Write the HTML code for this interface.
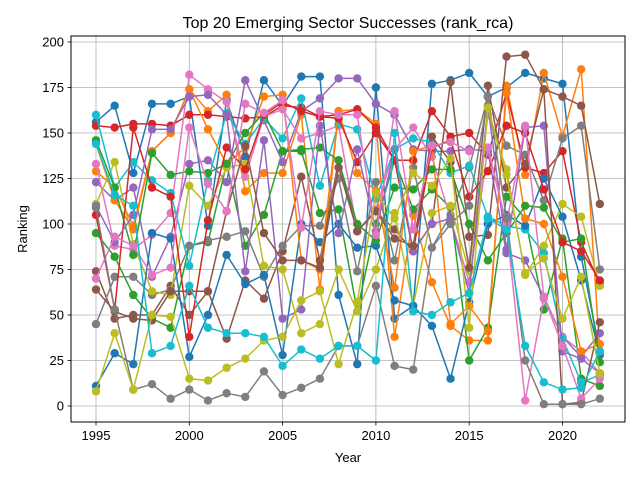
<!DOCTYPE html>
<html><head><meta charset="utf-8"><style>
body{margin:0;background:#fff;}
svg{display:block;font-family:"Liberation Sans","DejaVu Sans",sans-serif;}
</style></head><body>
<svg id="chart" width="640" height="480" xmlns="http://www.w3.org/2000/svg">
<rect width="640" height="480" fill="#fff"/>
<g id="grid"></g>
<g id="series"></g>
<rect x="71" y="36" width="554" height="386" fill="none" stroke="#000" stroke-width="1"/>
<g id="ticks"></g>
<text x="348" y="28" text-anchor="middle" font-size="16">Top 20 Emerging Sector Successes (rank_rca)</text>
<text x="348" y="462" text-anchor="middle" font-size="13">Year</text>
<text x="27" y="229" text-anchor="middle" font-size="13" transform="rotate(-90 27 229)">Ranking</text>
</svg>
<script>
const years=[1995,1996,1997,1998,1999,2000,2001,2002,2003,2004,2005,2006,2007,2008,2009,2010,2011,2012,2013,2014,2015,2016,2017,2018,2019,2020,2021,2022];
const xTicks=[1995,2000,2005,2010,2015,2020];
const yTicks=[0,25,50,75,100,125,150,175,200];
const colors=["#1f77b4","#ff7f0e","#2ca02c","#d62728","#9467bd","#8c564b","#e377c2","#7f7f7f","#bcbd22","#17becf"];
const s01=[156,165,128,166,166,170,99,168,137,179,165,181,181,61,23,175,48,55,177,179,183,170,175,183,180,177,82,30];
const s02=[129,120,99,140,150,174,162,171,118,128,128,160,64,162,163,155,38,105,68,44,36,36,176,127,183,148,185,30];
const s03=[95,82,61,48,43,88,90,133,88,105,140,140,106,108,52,100,135,108,119,109,25,43,115,103,53,92,15,11];
const s04=[154,153,155,155,154,160,160,159,158,159,165,164,159,160,163,153,135,135,162,148,150,138,172,131,128,140,90,67];
const s05=[123,113,120,71,93,133,135,123,179,157,134,162,169,180,180,166,160,141,140,140,141,140,84,80,60,38,27,40];
const s06=[74,48,50,50,66,50,63,37,69,59,85,126,80,135,96,107,97,85,100,178,93,94,192,193,174,170,165,111];
const s07=[133,88,86,94,106,182,174,167,126,159,163,147,150,154,96,108,141,153,137,103,68,142,99,3,59,38,30,18];
const s08=[45,71,71,61,64,88,91,93,96,71,88,99,99,125,74,123,80,131,87,105,131,170,143,138,113,147,154,75];
const s09=[111,134,89,63,61,121,110,131,133,77,75,40,45,75,52,75,106,55,106,110,74,160,130,72,88,111,104,66];
const s10=[160,120,134,124,117,77,124,161,144,158,147,169,121,155,152,114,141,147,145,128,132,104,99,97,84,37,13,17];
const s11=[11,29,23,95,92,27,50,83,67,72,28,100,90,100,87,88,58,55,44,15,57,100,105,99,125,104,69,28];
const s12=[144,113,97,140,150,174,152,133,142,170,171,80,75,162,128,118,65,140,143,45,55,41,172,103,100,71,30,34];
const s13=[146,120,83,139,127,129,128,133,150,161,140,141,142,135,100,91,120,119,130,130,100,80,95,110,109,90,92,24];
const s14=[105,53,153,120,115,38,102,142,130,160,167,162,159,158,134,150,135,85,142,146,115,129,154,150,119,90,85,69];
const s15=[110,90,105,152,152,170,171,160,74,146,48,53,154,95,141,96,141,85,100,103,62,165,86,153,154,30,26,18];
const s16=[64,52,48,47,63,63,63,107,143,95,80,80,76,131,96,107,92,88,148,134,76,176,120,133,174,1,2,46];
const s17=[70,93,88,72,76,153,122,107,166,161,168,98,162,160,160,94,162,97,143,145,140,142,100,154,60,33,4,15];
const s18=[109,53,9,12,4,9,3,7,5,19,6,10,15,33,33,66,22,20,87,100,110,170,103,25,1,1,1,4];
const s19=[8,40,9,50,49,15,14,21,26,36,38,58,63,23,57,117,103,128,121,136,43,164,127,73,81,48,71,18];
const s20=[144,116,110,29,33,66,43,40,40,38,22,31,26,33,33,25,150,52,50,57,62,103,97,33,13,9,10,30];
const allSeries=[s01,s02,s03,s04,s05,s06,s07,s08,s09,s10,s11,s12,s13,s14,s15,s16,s17,s18,s19,s20];

const NS="http://www.w3.org/2000/svg";
function xs(y){return 96+(y-1995)*18.66;}
function ys(v){return 406-v*1.82;}
function mk(tag,attrs,parent){const e=document.createElementNS(NS,tag);for(const k in attrs)e.setAttribute(k,attrs[k]);parent.appendChild(e);return e;}
const grid=document.getElementById('grid'),ticks=document.getElementById('ticks'),sg=document.getElementById('series');
xTicks.forEach(t=>{
  const g=mk('line',{x1:xs(t),x2:xs(t),y1:36,y2:422,stroke:'#b0b0b0','stroke-width':0.8},grid);
  
  
  const tk=mk('line',{x1:xs(t),x2:xs(t),y1:422,y2:425.5,stroke:'#000','stroke-width':0.8},ticks);
  
  
  const tl=mk('text',{x:xs(t),y:440,'text-anchor':'middle','font-size':13},ticks);
  tl.textContent=t;
  
  
});
yTicks.forEach(t=>{
  const g=mk('line',{x1:71,x2:625,y1:ys(t),y2:ys(t),stroke:'#b0b0b0','stroke-width':0.8},grid);
  
  
  const tk=mk('line',{x1:67.5,x2:71,y1:ys(t),y2:ys(t),stroke:'#000','stroke-width':0.8},ticks);
  
  
  const tl=mk('text',{x:64,y:ys(t)+4.5,'text-anchor':'end','font-size':13},ticks);
  tl.textContent=t;
  
  
});
allSeries.forEach((vals,i)=>{
  const c=colors[i%10];
  const g=mk('g',{},sg);
  
  
  const pts=vals.map((v,j)=>xs(years[j]).toFixed(1)+','+ys(v).toFixed(1)).join(' ');
  const pl=mk('polyline',{points:pts,fill:'none',stroke:c,'stroke-width':1.5,'stroke-linejoin':'round'},g);
  
  
  vals.forEach((v,j)=>{
    const p=mk('circle',{cx:xs(years[j]),cy:ys(v),r:4.2,fill:c},g);
    
    
  });
});
</script>
</body></html>
